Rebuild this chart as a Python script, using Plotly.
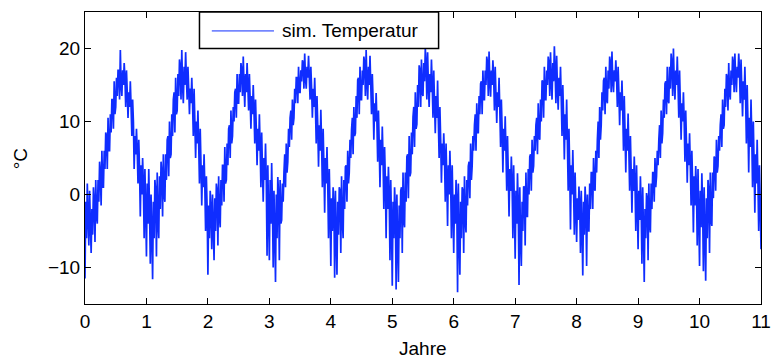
import numpy as np
import plotly.graph_objects as go

step = 0.0125
temp_y0 = [-11.5, -1, -6, 1.5, -3, -7, 0.5, -4, -8, -2, -5.5, 1, -1, -6.5, 2, -3,
           -4, 2, -1, 4.5, 3, -1.5, 6, 1, 1, 6, 3.5, 8.5, 8, 3.5, 10.5, 6,
           6, 11, 8.5, 13, 13, 9, 15.5, 11, 12, 16, 13.5, 17, 17, 13, 19.8, 15,
           13.5, 17, 15, 18, 16, 12, 17, 14, 10.5, 14, 12, 15.5, 12, 8, 13, 10,
           3.5, 8, 5.5, 9, 6, 1.5, 7.5, 3.5, -3, 4, 0, 5, 1.5, -6, 3.5, -2]
temp_y1 = [-8.5, 1.5, -4, 3.5, -2, -9.5, 0, -5, -11.6, -1, -6, 2, 0.5, -8.5, 3, -4,
           -6, 2.5, -2, 4.5, 3, -3, 5.5, 0, -1, 5.5, 2, 7.5, 8, 2.5, 10, 5,
           5.5, 11, 8, 13, 14, 8.5, 16, 11, 11.5, 16.5, 13.5, 18.5, 17.5, 13, 19.8, 15,
           12.5, 17.5, 15, 19.5, 16, 13, 17.5, 14.5, 11, 14.5, 12.5, 16, 12.5, 8, 14.5, 10,
           5, 10, 7, 11.5, 7, 1.5, 9, 4, -1.5, 4, 1, 5.5, 1, -5, 2.5, -2]
temp_y2 = [-11, -1.5, -6, 0.5, -2, -7.5, 0, -4.5, -9, -0.5, -5, 1.5, 0.5, -7, 2.5, -3,
           -4.5, 2, -1.5, 4, 4, -1, 6.5, 1.5, 2, 7, 4, 9, 9.5, 5, 11.5, 7,
           8, 12, 10, 14, 14.5, 10.5, 16.5, 12.5, 12.5, 16.5, 14, 18, 17, 13.5, 18.9, 15,
           12, 16.5, 14, 18, 15, 11.5, 16.5, 13, 9, 13.5, 11, 15, 11.5, 7, 13, 9,
           4, 9, 6, 11, 6.5, 1, 8.5, 3.5, -1, 5, 2, 7, 2, -8.4, 4, -3]
temp_y3 = [-9, 2, -4, 4.3, -1.5, -10, 0.5, -5, -12, 0, -6, 2.4, 0, -9, 2, -4,
           -3.5, 1.5, -1, 3, 5.5, 1, 7, 3, 4.5, 9, 6.5, 10.5, 11.5, 7.5, 13, 9.5,
           10.5, 14.5, 12.5, 16, 16, 12.5, 17.5, 14, 14, 17, 15.5, 18.4, 18, 14.5, 19.3, 16,
           14.5, 17.5, 16, 19, 16, 13, 17.5, 14.5, 10.5, 14.5, 12, 16, 12, 7, 13.5, 9.5,
           3.8, 9.5, 6, 11.6, 7, 1, 9, 4, -2.5, 5, 1.5, 6.5, 1.5, -6, 3.5, -2]
temp_y4 = [-9.8, -0.5, -5, 1, -1.5, -11.4, 0.5, -6, -11, -1, -5.5, 1, 0.5, -8, 2.5, -3.5,
           -6, 2, -2, 3.8, 4, -1, 6, 1.5, 3, 7.5, 5, 8.9, 10.5, 5.5, 12, 8,
           8.4, 13.5, 10.5, 15.7, 16, 11, 17.5, 13, 13, 17, 15, 18.9, 18, 13.5, 19.8, 15.5,
           13, 17.5, 15, 19, 15, 11, 16.5, 13, 7.5, 12.5, 10, 13.9, 10, 4.5, 11.5, 7,
           1, 7.5, 4, 9.3, 5, -2, 6.5, 2, -6, 2.5, -2, 3.8, 0, -9, 2, -4]
temp_y5 = [-12.5, -1, -6, 1, -2, -13, 0, -6.5, -12, -1.5, -6, 0.5, 1, -8, 3, -3.5,
           -4.5, 3, -1, 5.2, 5.5, -0.5, 8, 2.5, 3, 8.5, 5.5, 10.6, 12, 6.5, 14, 9,
           9.6, 15, 12, 17.7, 17, 12, 18.5, 14, 13.5, 18, 15.5, 20, 18, 13, 19.5, 15,
           12, 16.5, 14, 18.5, 15, 10.5, 17, 12.5, 8.4, 13.5, 10.5, 15.6, 10, 5, 12, 7.5,
           1.6, 7, 4, 8.4, 5, -1, 7, 2, -4.3, 4, 0, 6, 2, -6, 4, -2]
temp_y6 = [-8, 0, -4, 2, -1, -13.4, 1.5, -5.5, -11, -1, -6, 1, 0.5, -8, 2.5, -3.5,
           -5.2, 2, -1.5, 3.9, 4.5, -0.5, 7, 2, 3.9, 8, 6, 9.5, 11, 6, 12.5, 8.5,
           8.4, 13.5, 11, 15.2, 15.5, 11, 17, 13, 13, 17, 15, 18.9, 18, 13.5, 19.6, 15.5,
           13.4, 17, 15, 18.4, 16, 11.5, 17.5, 13.5, 9.8, 14, 12, 16, 11.5, 6.5, 13, 9,
           3, 9, 6, 10.7, 6, 0.5, 8, 3, -3, 3.5, 0.5, 5.2, 1.5, -6, 4, -2]
temp_y7 = [-8.8, 0.5, -4, 2.9, -1.5, -12.4, 1, -6, -9.8, -1, -5, 1.1, 1, -7, 3, -3,
           -3, 3.5, 0, 5.2, 5.5, 0.5, 7.5, 3, 3.9, 8, 6, 9.5, 10.5, 5.5, 12.5, 8,
           7.5, 13, 10, 15.6, 15.5, 10.5, 17.5, 13, 13, 17, 15, 18.9, 18, 13.5, 19.5, 15.5,
           13, 18, 15.5, 20.3, 17, 12.5, 19, 14.5, 11.6, 16, 13.5, 17.5, 13, 8, 15, 10.5,
           4.8, 11, 7.5, 13, 7, 0.5, 9, 3.5, -4.8, 4, 0, 6.1, 1, -5.5, 3, -2]
temp_y8 = [-6.5, -0.5, -3.5, 1.1, -1.5, -8, 0.5, -4.5, -11.1, -1, -5.5, 1.1, -1.5, -9.8, 0, -5,
           -5, 1.5, -2, 3, 3, -2, 5, 1, 0.5, 6, 3, 7.5, 10, 5, 12, 7.5,
           9.5, 14, 11.5, 15.6, 16, 11, 17.5, 13, 12.5, 17, 14.5, 18.9, 18, 14, 19.6, 15.5,
           14, 17, 15.5, 18.4, 16, 12, 17.5, 14, 9.5, 14, 11.5, 15.6, 11.5, 6, 13.5, 8.5,
           3, 9, 6, 11.1, 6, 0.5, 8, 3, -2.5, 3.5, 0.5, 5.2, 1.5, -5, 4, -1.5]
temp_y9 = [-7.5, 0.5, -3.5, 2.5, -1.5, -9.5, 1, -5, -12, -2, -6, 0.2, -0.5, -9, 1.5, -4,
           -5.2, 1.5, -2, 3, 3, -1, 5, 1, 2.5, 6, 4, 7.5, 9.5, 5, 11.5, 7,
           8.4, 13, 10.5, 15.2, 15.5, 11, 17.5, 13, 12.5, 17.5, 14.5, 19.3, 18, 13.5, 20, 15.5,
           13, 17, 15, 18.9, 15, 10.5, 17, 12.5, 7.5, 12.5, 10, 14, 10, 4.5, 11.5, 7,
           1.6, 7, 4, 8.4, 4, -1.5, 6, 1.5, -5.2, 2.5, -1.5, 3.9, 1, -7, 3.5, -3]
temp_y10 = [-9.8, 0.5, -4.5, 2.9, -1.5, -10.5, 1, -5.5, -11.8, -0.5, -6, 2, 0.5, -8, 3, -3.5,
            -4.3, 3, -0.5, 5.2, 5, 0.5, 7.5, 3, 3.9, 8, 6, 9.5, 11, 6.5, 13, 9,
            9.5, 14.5, 12, 16.5, 16, 11.5, 18, 14, 13, 17, 15, 18.9, 18, 14, 19.3, 16,
            14, 17.5, 16, 19.3, 17, 12.5, 18.5, 14.5, 10.7, 15.5, 13, 17.5, 13, 7, 15, 10,
            3, 10.5, 6.5, 13, 8, 1, 10, 4, -2.5, 5.5, 1.5, 7.5, 2, -5, 4, -1, -7.5]

temp = (temp_y0 + temp_y1 + temp_y2 + temp_y3 + temp_y4 + temp_y5 + temp_y6 +
        temp_y7 + temp_y8 + temp_y9 + temp_y10)
years = np.arange(len(temp)) * step

x_ticks = list(range(0, 12))
y_ticks = [-10, 0, 10, 20]

FONT = "Liberation Sans, Arial, Helvetica, sans-serif"
FS = 19
BLUE = "rgb(15,45,255)"

fig = go.Figure()
fig.add_trace(go.Scatter(x=years, y=temp, mode="lines",
                         line=dict(color=BLUE, width=1.7, simplify=False),
                         name="sim. Temperatur", showlegend=False))

L, R, T, B = 85, 12, 11, 57
W, H = 782, 361
pw, ph = W - L - R, H - T - B

def px2x(px):
    return (px - L) / pw

def py2y(py):
    return (H - B - py) / ph

axis_common = dict(showline=True, linecolor="black", linewidth=1, mirror="ticks",
                   ticks="inside", ticklen=6, tickcolor="black", tickwidth=1,
                   showgrid=False, zeroline=False,
                   tickfont=dict(family=FONT, size=FS, color="black"))

fig.update_layout(
    width=W, height=H,
    margin=dict(l=L, r=R, t=T, b=B),
    paper_bgcolor="white", plot_bgcolor="white",
    xaxis=dict(range=[0, 11], tickvals=x_ticks, **axis_common),
    yaxis=dict(range=[-15, 25], tickvals=y_ticks, **axis_common),
    showlegend=False,
)

# legend (drawn manually)
fig.add_shape(type="rect", xref="paper", yref="paper",
              x0=px2x(201), x1=px2x(443.3), y0=py2y(47.7), y1=1.0,
              line=dict(color="black", width=1.5), fillcolor="white")
fig.add_shape(type="line", xref="paper", yref="paper",
              x0=px2x(213.5), x1=px2x(276.5), y0=py2y(30), y1=py2y(30),
              line=dict(color=BLUE, width=1))
fig.add_annotation(text="sim. Temperatur", xref="paper", yref="paper",
                   x=px2x(283), y=py2y(30), xanchor="left", yanchor="middle",
                   showarrow=False, font=dict(family=FONT, size=FS, color="black"))

# axis titles
fig.add_annotation(text="°C", xref="paper", yref="paper",
                   x=px2x(20), y=py2y(158), xanchor="center", yanchor="middle",
                   textangle=-90, showarrow=False,
                   font=dict(family=FONT, size=FS, color="black"))
fig.add_annotation(text="Jahre", xref="paper", yref="paper",
                   x=px2x(427.5), y=py2y(349), xanchor="center", yanchor="middle",
                   showarrow=False, font=dict(family=FONT, size=FS, color="black"))

fig.write_html("out.html")
